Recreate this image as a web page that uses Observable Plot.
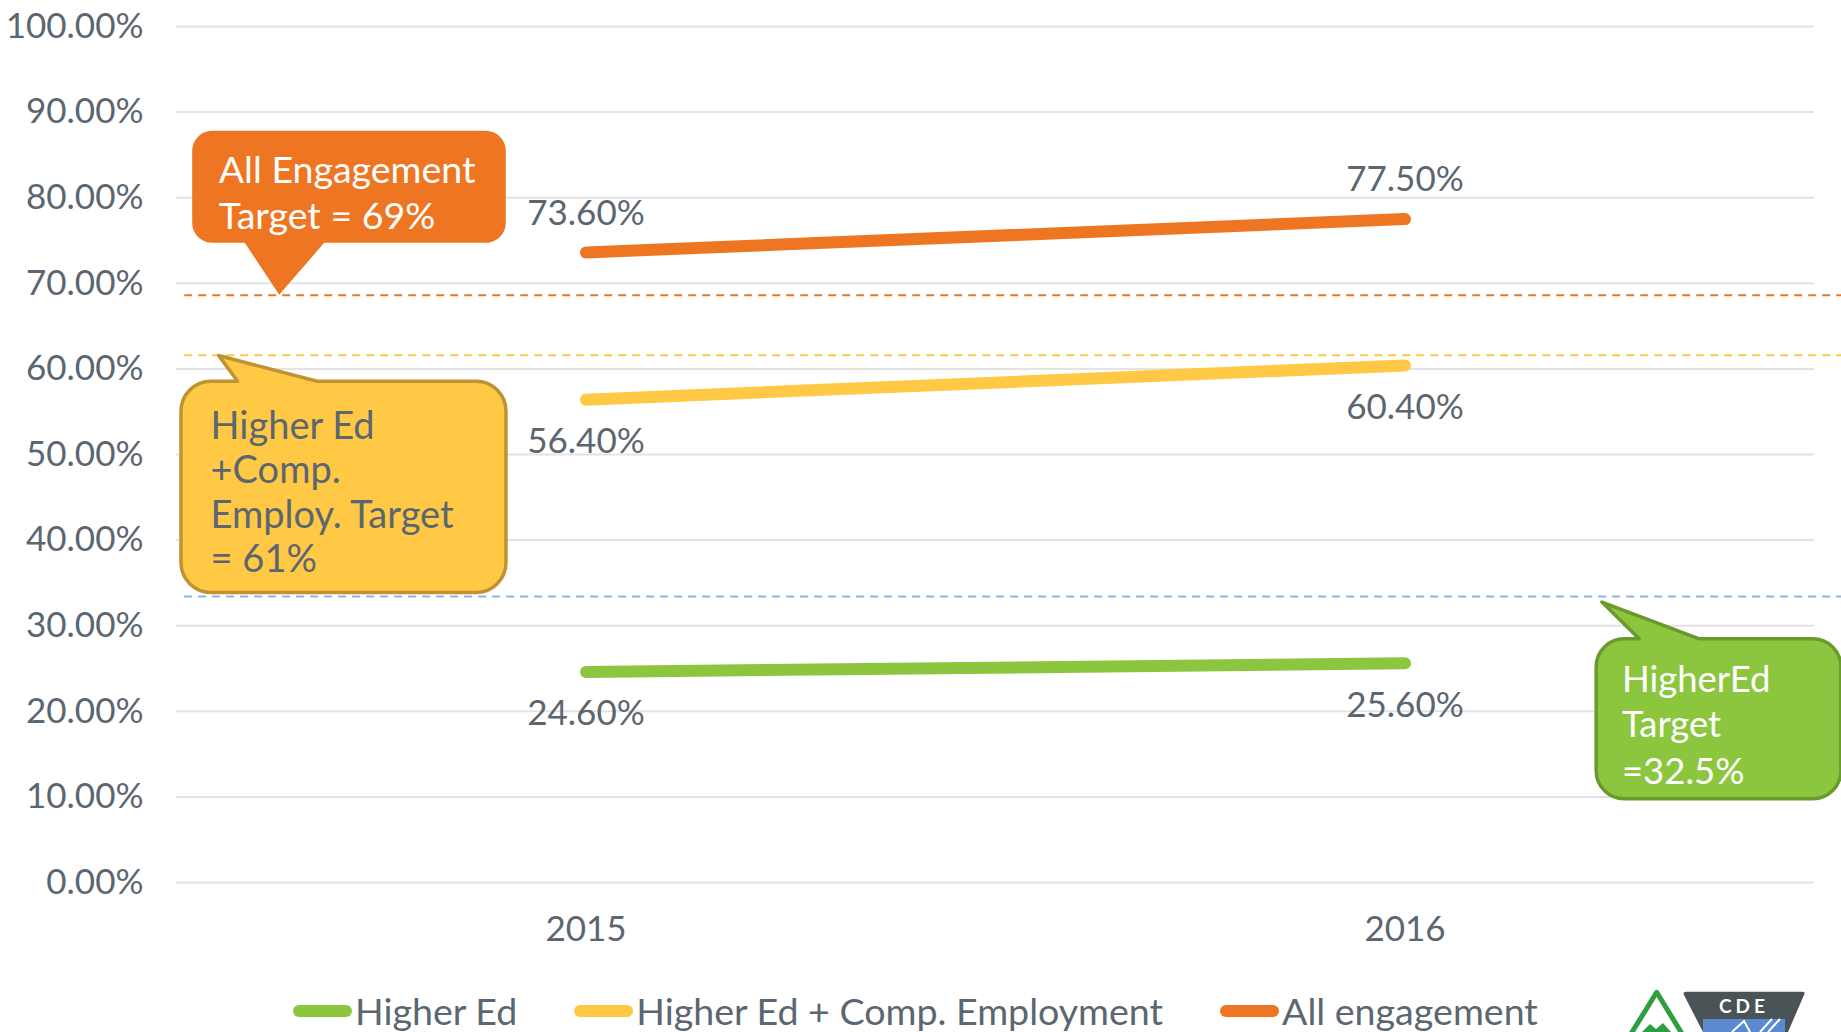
<!DOCTYPE html>
<html><head><meta charset="utf-8">
<script src="https://cdn.jsdelivr.net/npm/d3@7"></script>
<script src="https://cdn.jsdelivr.net/npm/@observablehq/plot@0.6"></script>
<style>
html,body{margin:0;padding:0;background:#fff;overflow:hidden;width:1841px;height:1032px;font-family:Lato,"Open Sans",sans-serif;}
#wrap{position:relative;width:1841px;height:1032px;}
#chart{position:absolute;left:0;top:0;}
#legend{position:absolute;left:0;top:960px;width:1841px;display:flex;align-items:center;padding-left:293px;padding-top:31px;box-sizing:border-box;font-size:37.6px;color:#5b6670;line-height:40px;white-space:nowrap;}
.item{display:flex;align-items:center;margin-right:57px;}
.sw{width:59px;height:12px;border-radius:6px;margin-right:3px;}
#logo{position:absolute;left:1620px;top:985px;}
</style></head><body>
<div id="wrap"><div id="chart"></div><div id="legend"></div>
<svg id="logo" width="221" height="47" viewBox="0 0 221 47">
  <polyline points="9,52 36.7,7.3 64,52" fill="none" stroke="#2e9e40" stroke-width="5" stroke-linejoin="round"/>
  <path d="M22,47 L30,39 L36,44 L43,38 L51,47 Z" fill="#2e9e40"/>
  <path d="M66,6.7 L182,6.7 Q186,6.7 184,10 L168,47 L83,47 L64,10 Q62.5,6.7 66,6.7 Z" fill="#4a5356"/>
  <rect x="83" y="34" width="82" height="13" fill="#5b8ad0"/>
  <path d="M112,47 L124,36 L130,47 M140,47 L152,34 M148,47 L160,34" stroke="#fff" stroke-width="2" fill="none"/>
  <text x="124" y="27.5" text-anchor="middle" fill="#fff" font-family="Lato,sans-serif" font-weight="bold" font-size="19" letter-spacing="4">CDE</text>
</svg>
</div>
<script>
// ---- data ----
const years = [2015, 2016];
const seriesNames = ["Higher Ed", "Higher Ed + Comp. Employment", "All engagement"];
const higherEd = [24.6, 25.6];
const higherEdComp = [56.4, 60.4];
const allEngagement = [73.6, 77.5];
const seriesColors = ["#8cc63f", "#ffc845", "#ee7623"];
const labelSide = ["below", "below", "above"];
const yTicks = [0, 10, 20, 30, 40, 50, 60, 70, 80, 90, 100];

// target lines (as drawn on the chart)
const targetNames = ["All Engagement", "Higher Ed + Comp.", "HigherEd"];
const targetValues = [68.6, 61.6, 33.4];
const targetColors = ["#ee7623", "#ffc845", "#8db3e2"];
const targetStart = 2014.51;
const targetEnd = 2016.54;

// callouts
const calloutLines = [
  ["All Engagement", "Target = 69%"],
  ["Higher Ed", "+Comp.", "Employ. Target", "= 61%"],
  ["HigherEd", "Target", "=32.5%"]
];
const calloutTipX = [2014.626, 2014.552, 2016.241];
const calloutTipY = [68.6, 61.5, 32.7];
const calloutFill = ["#ee7623", "#ffc845", "#8cc63f"];
const calloutStroke = ["none", "#bf9232", "#6a9a2e"];
const calloutText = ["#ffffff", "#5b6670", "#ffffff"];
const calloutFontSize = [37.5, 38, 36.5];

// ---- build ----
const seriesValues = [higherEd, higherEdComp, allEngagement];
const rows = seriesNames.flatMap((s, si) => years.map((yr, i) => ({year: yr, value: seriesValues[si][i], series: s, side: labelSide[si]})));
const targets = targetValues.map((v, i) => ({value: v, x1: targetStart, x2: targetEnd, color: targetColors[i], name: targetNames[i]}));
const textColor = "#5b6670";

const plot = Plot.plot({
  width: 1841, height: 960,
  marginLeft: 176, marginRight: 27, marginTop: 26, marginBottom: 78,
  style: {fontFamily: "Lato, 'Open Sans', sans-serif", fontSize: "35px", color: textColor, background: "transparent", overflow: "visible"},
  x: {domain: [2014.5, 2016.5], label: null},
  y: {domain: [0, 100], label: null},
  color: {domain: seriesNames, range: seriesColors},
  marks: [
    Plot.gridY(yTicks, {stroke: "#e3e3e3", strokeOpacity: 1, strokeWidth: 2}),
    ...targets.map(t => Plot.ruleY([t], {y: "value", x1: "x1", x2: "x2", stroke: t.color, strokeWidth: 2, strokeDasharray: "8,6"})),
    Plot.line(rows, {x: "year", y: "value", z: "series", stroke: "series", strokeWidth: 12, strokeLinecap: "round"}),
    Plot.text(rows.filter(d => d.side === "above"), {x: "year", y: "value", text: d => d.value.toFixed(2) + "%", dy: -39, fontSize: 35, fill: textColor}),
    Plot.text(rows.filter(d => d.side === "below"), {x: "year", y: "value", text: d => d.value.toFixed(2) + "%", dy: 42, fontSize: 35, fill: textColor}),
    Plot.axisY(yTicks, {tickSize: 0, tickPadding: 33, tickFormat: d => d.toFixed(2) + "%", fontSize: 35, label: null}),
    Plot.axisX(years, {tickSize: 0, tickPadding: 34, tickFormat: d => String(d), fontSize: 35, label: null})
  ]
});
document.getElementById("chart").appendChild(plot);

// callouts drawn with the plot's scales
const sx = plot.scale("x"), sy = plot.scale("y");
const boxes = [
  {x0: -87, x1: 226.6, y0: -164, y1: -52, r: 20, side: "bottom", a: -34.4, b: 45, tx: -60.4, ty: [-112, -66]},
  {x0: -37.6, x1: 287.4, y0: 25.7, y1: 237, r: 30, side: "top", a: 19, b: 98.4, tx: -8, ty: [83, 127, 172, 216]},
  {x0: -5.7, x1: 239, y0: 36.6, y1: 196.6, r: 28, side: "top", a: 37.3, b: 96.7, tx: 20, ty: [90, 135, 181.6]}
];
const svg = d3.select(plot);
const g = svg.append("g").attr("class", "callouts").attr("text-anchor", "start");
boxes.forEach((bx, i) => {
  const px = sx.apply(calloutTipX[i]), py = sy.apply(calloutTipY[i]);
  const x0 = px + bx.x0, x1 = px + bx.x1, y0 = py + bx.y0, y1 = py + bx.y1, r = bx.r;
  const a = px + bx.a, b = px + bx.b;
  let d;
  if (bx.side === "top") {
    d = `M${x0 + r},${y0} L${a},${y0} L${px},${py} L${b},${y0} L${x1 - r},${y0} A${r},${r} 0 0 1 ${x1},${y0 + r} L${x1},${y1 - r} A${r},${r} 0 0 1 ${x1 - r},${y1} L${x0 + r},${y1} A${r},${r} 0 0 1 ${x0},${y1 - r} L${x0},${y0 + r} A${r},${r} 0 0 1 ${x0 + r},${y0} Z`;
  } else {
    d = `M${x0 + r},${y0} L${x1 - r},${y0} A${r},${r} 0 0 1 ${x1},${y0 + r} L${x1},${y1 - r} A${r},${r} 0 0 1 ${x1 - r},${y1} L${b},${y1} L${px},${py} L${a},${y1} L${x0 + r},${y1} A${r},${r} 0 0 1 ${x0},${y1 - r} L${x0},${y0 + r} A${r},${r} 0 0 1 ${x0 + r},${y0} Z`;
  }
  g.append("path").attr("d", d).attr("fill", calloutFill[i])
    .attr("stroke", calloutStroke[i]).attr("stroke-width", 3.5).attr("stroke-linejoin", "round");
  calloutLines[i].forEach((line, j) => {
    g.append("text").attr("x", px + bx.tx).attr("y", py + bx.ty[j])
      .attr("text-anchor", "start")
      .attr("fill", calloutText[i]).attr("font-size", calloutFontSize[i]).text(line);
  });
});

// legend
const legend = d3.select("#legend");
seriesNames.forEach((s, i) => {
  const it = legend.append("div").attr("class", "item");
  it.append("div").attr("class", "sw").style("background", seriesColors[i]);
  it.append("span").text(s);
});
</script>
</body></html>
